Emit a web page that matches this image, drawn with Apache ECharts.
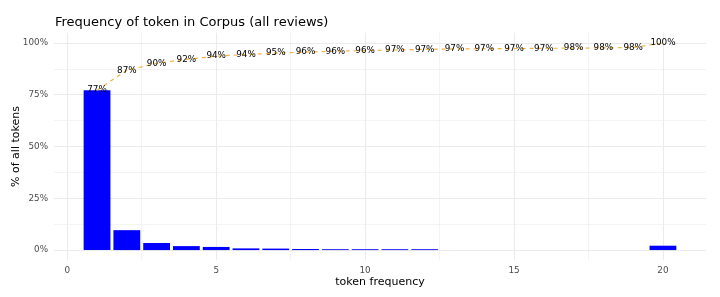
<!DOCTYPE html>
<html><head><meta charset="utf-8">
<script src="https://cdn.jsdelivr.net/npm/echarts@6/dist/echarts.min.js"></script>
<style>html,body{margin:0;padding:0;background:#fff}#c{width:720px;height:297px}</style>
</head><body><div id="c"></div>
<script>
// token frequency buckets (20 = "20 or more")
const freqs = [1,2,3,4,5,6,7,8,9,10,11,12,13,14,15,16,17,18,19,20];
// share of all tokens per bucket (%); buckets 13-19 too small to be visible
const shares = [77.2,9.6,3.4,1.9,1.5,0.8,0.7,0.5,0.4,0.4,0.4,0.4,null,null,null,null,null,null,null,2.1];
// cumulative share (%)
const cumulative = [77.2,86.8,90.2,92.1,93.6,94.4,95.1,95.6,96.0,96.3,96.6,96.9,97.1,97.2,97.3,97.4,97.5,97.6,97.8,100];
const cumLabels = ['77%','87%','90%','92%','94%','94%','95%','96%','96%','96%','97%','97%','97%','97%','97%','97%','98%','98%','98%','100%'];
const xTicks = [0,5,10,15,20];
const xMinor = [2.5,7.5,12.5,17.5];
const yTicks = [0,25,50,75,100];
const yMinor = [12.5,37.5,62.5,87.5];

const font = 'DejaVu Sans';
const gridCol = '#ebebeb';
const chart = echarts.init(document.getElementById('c'), null, {renderer:'canvas'});
const ml = [];
xTicks.forEach(v=>ml.push({xAxis:v,lineStyle:{width:1.1,color:gridCol}}));
xMinor.forEach(v=>ml.push({xAxis:v,lineStyle:{width:0.55,color:gridCol}}));
yTicks.forEach(v=>ml.push({yAxis:v,lineStyle:{width:1.1,color:gridCol}}));
yMinor.forEach(v=>ml.push({yAxis:v,lineStyle:{width:0.55,color:gridCol}}));

chart.setOption({
  animation:false,
  title:{text:'Frequency of token in Corpus (all reviews)',left:50,top:11,
    textStyle:{fontFamily:font,fontSize:13,fontWeight:'normal',color:'#000'}},
  grid:{left:54,right:14,top:32.6,bottom:36.6,containLabel:false,outerBoundsMode:'none'},
  xAxis:{type:'value',min:-0.445,max:21.445,
    name:'token frequency',nameLocation:'middle',nameGap:16,nameMoveOverlap:false,
    nameTextStyle:{fontFamily:font,fontSize:11,color:'#000'},
    axisLine:{show:false},axisTick:{show:false},splitLine:{show:false},
    axisLabel:{customValues:xTicks,fontFamily:font,fontSize:8.8,color:'#4d4d4d',margin:6}},
  yAxis:{type:'value',min:-5,max:105,
    name:'% of all tokens',nameLocation:'middle',nameGap:32,nameMoveOverlap:false,
    nameTextStyle:{fontFamily:font,fontSize:11,color:'#000'},
    axisLine:{show:false},axisTick:{show:false},splitLine:{show:false},
    axisLabel:{customValues:yTicks,formatter:'{value}%',fontFamily:font,fontSize:8.8,color:'#4d4d4d',margin:6}},
  series:[
    {type:'line',data:[],z:0,zlevel:0,silent:true,
     markLine:{z:0,silent:true,symbol:['none','none'],label:{show:false},data:ml,lineStyle:{type:'solid'}}},
    {type:'bar',z:5,barWidth:26.8,
     data:freqs.map((f,i)=>[f,shares[i]]),
     itemStyle:{color:'#0000ff'}},
    {type:'line',z:6,symbol:'circle',symbolSize:2,showSymbol:true,showAllSymbol:true,
     itemStyle:{color:'rgba(0,0,0,0)',borderWidth:0},
     data:freqs.map((f,i)=>[f,cumulative[i]]),
     lineStyle:{color:'#f3b23a',type:[4,4],width:1.2},
     labelLayout:{hideOverlap:false},
     label:{show:true,position:'inside',formatter:p=>cumLabels[p.dataIndex],
       fontFamily:font,fontSize:8.8,color:'#000'}}
  ]
});
</script></body></html>
